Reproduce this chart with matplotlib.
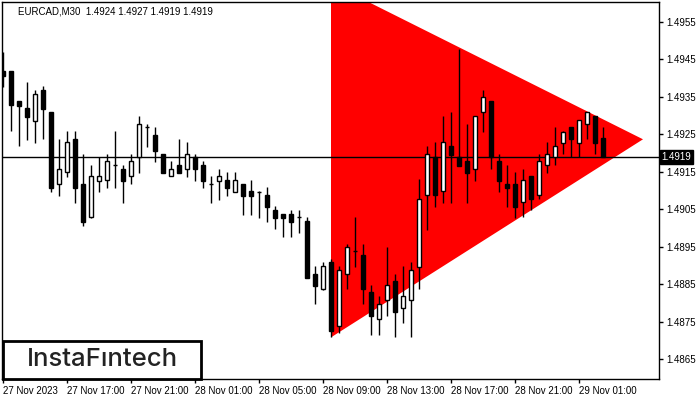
import numpy as np
import matplotlib
matplotlib.use("Agg")
from matplotlib import pyplot as plt
from matplotlib.patches import Rectangle

# EURCAD M30 candles, first bar = 27 Nov 13:00
opens = [1.49419, 1.49419, 1.49339, 1.49321, 1.49287, 1.49369, 1.49311, 1.49118, 1.4915, 1.49238,
         1.49118, 1.4903, 1.49127, 1.49129, 1.49168, 1.49158, 1.49139, 1.4919, 1.4927, 1.49249,
         1.49198, 1.49139, 1.49169, 1.49158, 1.4919, 1.49169, 1.49118, 1.49127, 1.49129, 1.49097,
         1.49118, 1.49099, 1.49097, 1.49089, 1.49049, 1.49038, 1.49038, 1.49029, 1.49019, 1.48878,
         1.48837, 1.4891, 1.48739, 1.48877, 1.48939, 1.48929, 1.4883, 1.48757, 1.48808, 1.48859,
         1.48788, 1.48808, 1.48897, 1.49088, 1.49189, 1.49099, 1.49219, 1.49189, 1.49179, 1.49157,
         1.49309, 1.49339, 1.49179, 1.49118, 1.49118, 1.49069, 1.49139, 1.49088, 1.49168, 1.4919,
         1.49228, 1.49269, 1.49228, 1.49277, 1.49299, 1.4924]
highs = [1.4947, 1.4942, 1.4934, 1.4939, 1.49369, 1.49379, 1.49311, 1.49238, 1.4926, 1.4926,
         1.49198, 1.49169, 1.4919, 1.49198, 1.49259, 1.49169, 1.49198, 1.49299, 1.49278, 1.4927,
         1.49199, 1.49179, 1.49238, 1.4923, 1.49198, 1.49179, 1.49139, 1.49158, 1.4915, 1.4915,
         1.49119, 1.49129, 1.49098, 1.49109, 1.49059, 1.49039, 1.49049, 1.49049, 1.49029, 1.48899,
         1.48909, 1.48918, 1.48899, 1.48958, 1.49029, 1.48958, 1.48849, 1.48819, 1.48949, 1.48878,
         1.48899, 1.48909, 1.49131, 1.49219, 1.49229, 1.49299, 1.4931, 1.49477, 1.49278, 1.49299,
         1.49369, 1.4934, 1.49198, 1.49168, 1.4915, 1.49158, 1.4914, 1.49198, 1.4923, 1.49269,
         1.49258, 1.4927, 1.49289, 1.4931, 1.493, 1.4927]
lows = [1.49377, 1.49258, 1.49218, 1.49235, 1.49228, 1.49238, 1.49097, 1.49087, 1.49137, 1.49068,
        1.49007, 1.49028, 1.49097, 1.49108, 1.49108, 1.49068, 1.49118, 1.49148, 1.49217, 1.49177,
        1.49147, 1.49138, 1.49147, 1.49137, 1.49127, 1.49108, 1.49068, 1.49075, 1.49087, 1.49096,
        1.49035, 1.49035, 1.49027, 1.49017, 1.48997, 1.48977, 1.48977, 1.48988, 1.48867, 1.48797,
        1.48836, 1.48709, 1.4872, 1.48837, 1.48897, 1.48797, 1.48715, 1.48715, 1.48767, 1.48711,
        1.48748, 1.48711, 1.48837, 1.48995, 1.49057, 1.49068, 1.49068, 1.49166, 1.49068, 1.49127,
        1.49257, 1.49157, 1.49097, 1.49057, 1.49028, 1.49029, 1.49049, 1.49077, 1.49148, 1.49168,
        1.49197, 1.49189, 1.49189, 1.49237, 1.49197, 1.4919]
closes = [1.49406, 1.49329, 1.49327, 1.49297, 1.49358, 1.49318, 1.49108, 1.49158, 1.4923, 1.49108,
          1.49017, 1.49139, 1.49139, 1.49179, 1.49168, 1.49127, 1.49179, 1.49278, 1.4927, 1.49207,
          1.49148, 1.49158, 1.49148, 1.49198, 1.49158, 1.49127, 1.49118, 1.49139, 1.49108, 1.49129,
          1.49087, 1.49087, 1.49097, 1.49057, 1.49028, 1.49028, 1.49017, 1.49029, 1.48868, 1.48847,
          1.48899, 1.48727, 1.48889, 1.4895, 1.48939, 1.48837, 1.48767, 1.48798, 1.48849, 1.48777,
          1.48819, 1.48889, 1.49078, 1.49197, 1.49088, 1.49229, 1.49196, 1.49167, 1.49148, 1.49299,
          1.49349, 1.49189, 1.49127, 1.49108, 1.49057, 1.49128, 1.49077, 1.49179, 1.49197, 1.49219,
          1.49257, 1.49237, 1.49288, 1.49309, 1.49228, 1.4919]

# symmetric triangle pattern (bar index, price)
tri_x = [41, 80, 41]
tri_y = [1.49653, 1.49237, 1.48709]

last_price = 1.4919
price_ticks = [1.4865, 1.4875, 1.4885, 1.4895, 1.4905, 1.4915, 1.4925, 1.4935, 1.4945, 1.4955]
time_tick_pos = [0, 8, 16, 24, 32, 40, 48, 56, 64, 72]
time_labels = ['27 Nov 2023', '27 Nov 17:00', '27 Nov 21:00', '28 Nov 01:00', '28 Nov 05:00',
               '28 Nov 09:00', '28 Nov 13:00', '28 Nov 17:00', '28 Nov 21:00', '29 Nov 01:00']
title = 'EURCAD,M30  1.4924 1.4927 1.4919 1.4919'

plt.rcParams['font.family'] = ['Liberation Sans', 'DejaVu Sans']

fig = plt.figure(figsize=(7, 4), dpi=100)
ax = fig.add_axes([2/700, 21/400, 657/700, 377/400])

x = np.arange(len(opens))
o = np.array(opens); c = np.array(closes)
h = np.array(highs); l = np.array(lows)

ax.fill(tri_x, tri_y, color='#ff0000', lw=0, zorder=1)
ax.axhline(last_price, color='black', lw=1, zorder=2)

ax.vlines(x, l, h, color='black', lw=1, zorder=3)
up = c >= o
body_lo = np.minimum(o, c)
body_h = np.abs(c - o)
ax.bar(x[up], body_h[up], bottom=body_lo[up], width=0.6, color='white',
       edgecolor='black', lw=1, zorder=4)
ax.bar(x[~up], body_h[~up], bottom=body_lo[~up], width=0.6, color='black',
       edgecolor='black', lw=1, zorder=4)

ax.set_xlim(-0.125, 82)
ax.set_ylim(1.48598, 1.49603)

ax.yaxis.tick_right()
ax.set_yticks(price_ticks)
ax.set_yticklabels(['%.4f' % p for p in price_ticks], fontsize=7)
ax.set_xticks(time_tick_pos)
ax.set_xticklabels(time_labels, fontsize=7, ha='left')
ax.tick_params(axis='both', direction='out', length=3, width=1, pad=2, colors='black')
for s in ax.spines.values():
    s.set_color('black')
    s.set_linewidth(1)

ax.text(1.004, last_price, '%.4f' % last_price, transform=ax.get_yaxis_transform(),
        fontsize=7, color='white', va='center', ha='left',
        bbox=dict(facecolor='black', edgecolor='black', pad=1.2))

fig.text(18/700, 1 - 11/400, title, fontsize=7, va='center', ha='left')

# logo box
fig.patches.append(Rectangle((3/700, 21/400), 198/700, 38/400, transform=fig.transFigure,
                             facecolor='white', edgecolor='black', lw=2, zorder=10))
fig.text(102/700, 1 - 359/400, 'InstaF\u0131ntech', fontsize=18.5, family=['Inter', 'DejaVu Sans'],
         fontweight='medium', color='#222222', ha='center', va='center', zorder=11)

fig.savefig('out.png', dpi=100)
